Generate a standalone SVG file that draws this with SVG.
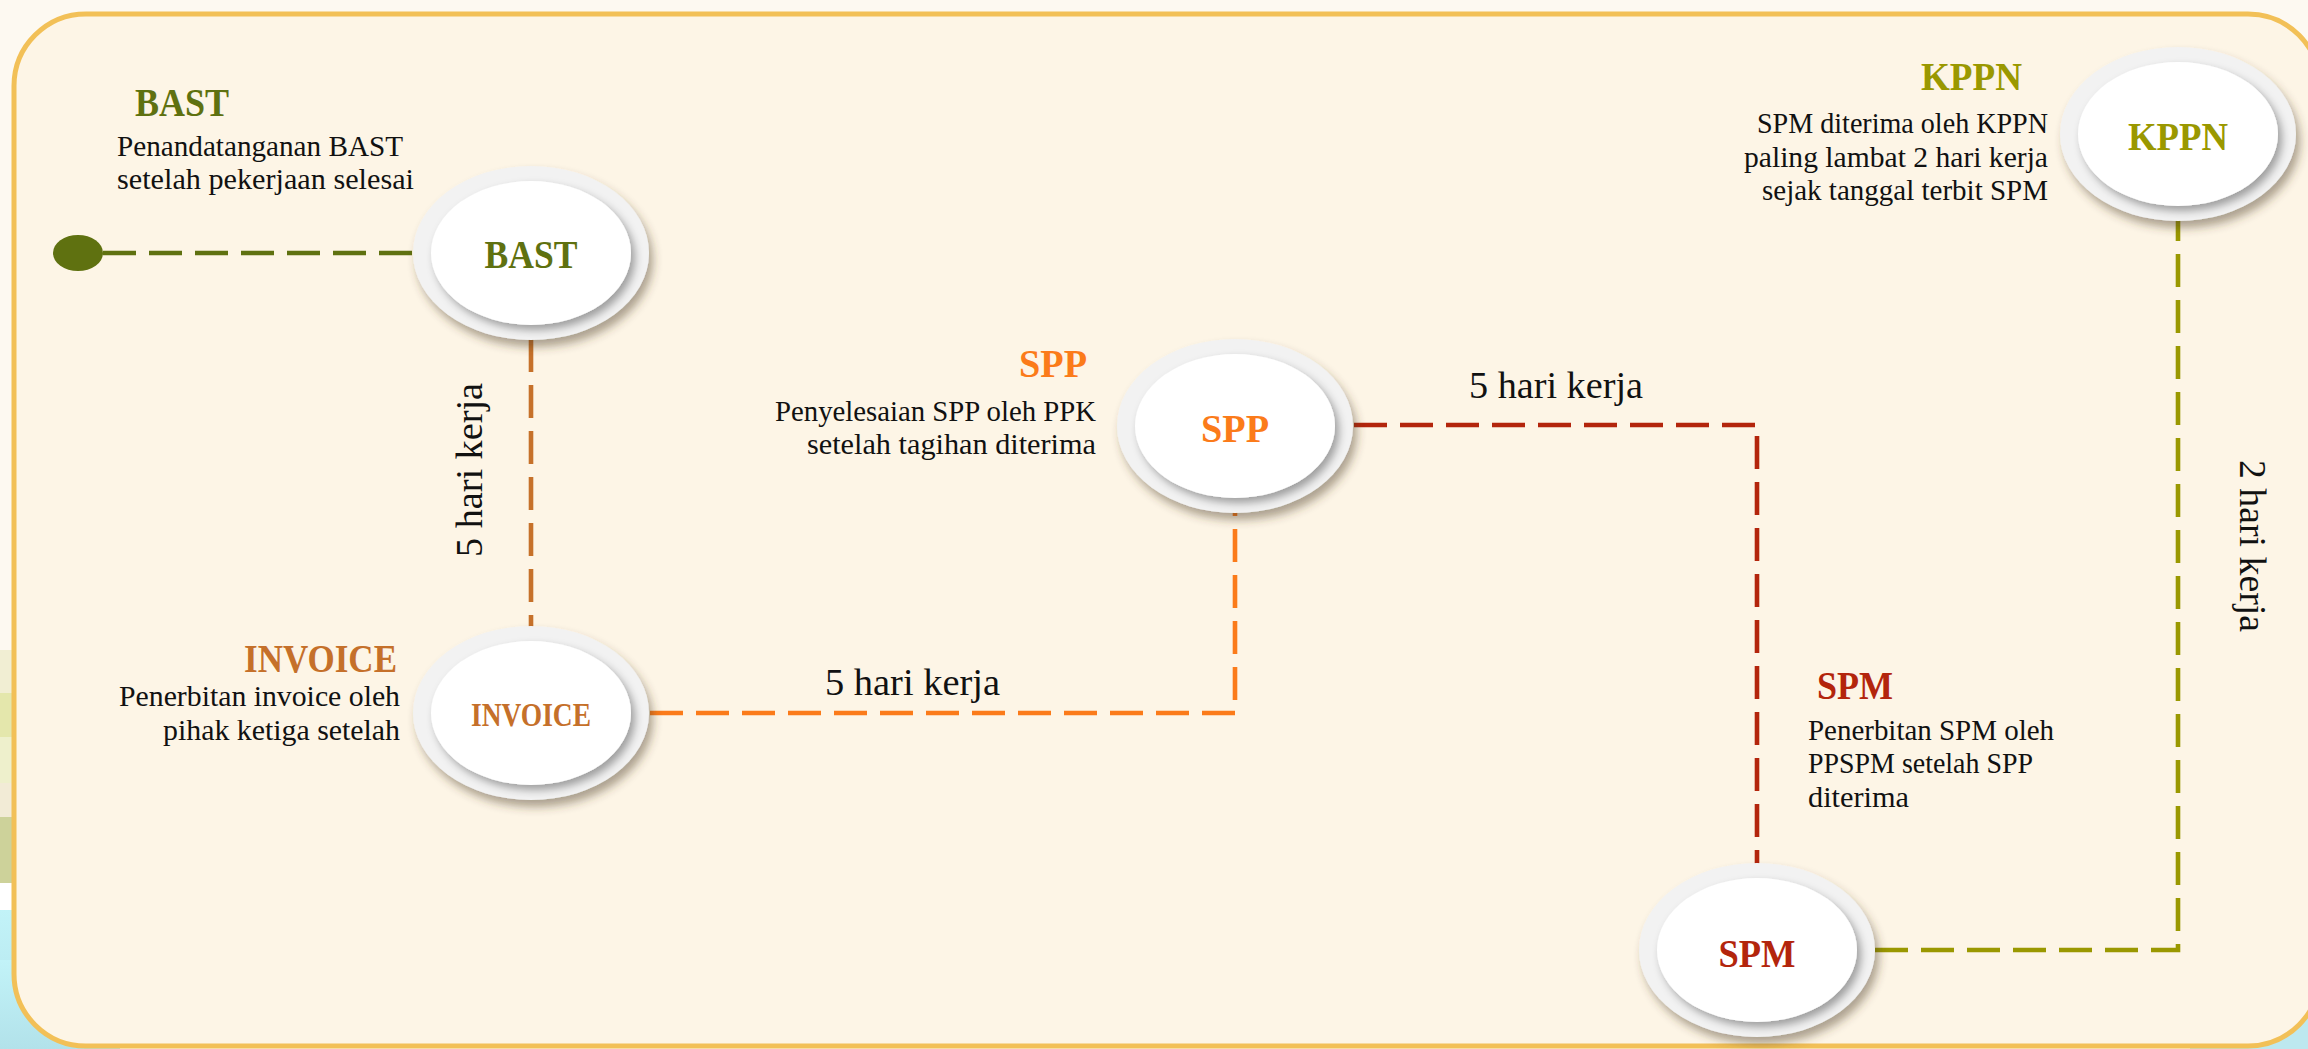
<svg xmlns="http://www.w3.org/2000/svg" width="2308" height="1049" viewBox="0 0 2308 1049">
<defs>
<style>
.ring{fill:#F2F2F2;filter:url(#shOuter)}
.core{fill:#FFFFFF;filter:url(#shInner)}
.lbl{font-family:"Liberation Serif",serif;font-weight:bold;font-size:41px;text-anchor:middle}
.ttl{font-family:"Liberation Serif",serif;font-weight:bold;font-size:41px}
.dsc{font-family:"Liberation Serif",serif;font-size:30px;fill:#111}
.end{text-anchor:end}
.conn{fill:none;stroke-width:4.6;stroke-dasharray:33 13}
.dur{font-family:"Liberation Serif",serif;font-size:38px;fill:#111}
</style>
<filter id="shOuter" x="-20%" y="-20%" width="150%" height="150%">
<feDropShadow dx="4" dy="7" stdDeviation="5" flood-color="#4a3a20" flood-opacity="0.45"/>
</filter>
<filter id="shInner" x="-20%" y="-20%" width="150%" height="150%">
<feDropShadow dx="4" dy="5" stdDeviation="4" flood-color="#000000" flood-opacity="0.35"/>
</filter>
<linearGradient id="sky" x1="0" y1="0" x2="0" y2="1">
<stop offset="0" stop-color="#C2F3F8"/>
<stop offset="1" stop-color="#B2E2EA"/>
</linearGradient>
</defs>

<!-- background -->
<rect x="0" y="0" width="2308" height="1049" fill="#FDF9F1"/>
<rect x="0" y="650" width="16" height="45" fill="#F1EED3"/>
<rect x="0" y="693" width="16" height="45" fill="#E4E7AC"/>
<rect x="0" y="737" width="16" height="46" fill="#EEF0CC"/>
<rect x="0" y="783" width="16" height="34" fill="#F2EBD6"/>
<rect x="0" y="817" width="16" height="66" fill="#CDD29A"/>
<rect x="0" y="883" width="16" height="27" fill="#FFFFFF"/>
<rect x="0" y="910" width="16" height="139" fill="url(#sky)"/>
<rect x="0" y="960" width="120" height="89" fill="url(#sky)"/>
<rect x="2190" y="940" width="118" height="109" fill="#BDE8EF"/>

<!-- frame -->
<rect x="14" y="14" width="2306" height="1032" rx="72" ry="72" fill="#FDF5E6" stroke="#F2C057" stroke-width="5"/>

<!-- connectors -->
<g id="connectors">
<ellipse cx="78" cy="253" rx="25" ry="18" fill="#5F7110"/>
<line class="conn" x1="103" y1="253" x2="413" y2="253" stroke="#5F7110"/>
<line class="conn" x1="531" y1="339" x2="531" y2="627" stroke="#C6712A"/>
<polyline class="conn" points="650,713 1235,713 1235,512" stroke="#FB7B1A"/>
<polyline class="conn" points="1354,425 1757,425 1757,864" stroke="#B3250C"/>
<polyline class="conn" points="1875,950 2178,950 2178,220" stroke="#9A9800"/>
<text class="dur" text-anchor="middle" transform="translate(482,470) rotate(-90)" textLength="174" lengthAdjust="spacingAndGlyphs">5 hari kerja</text>
<text class="dur" x="825" y="695" textLength="175" lengthAdjust="spacingAndGlyphs">5 hari kerja</text>
<text class="dur" x="1469" y="398" textLength="174" lengthAdjust="spacingAndGlyphs">5 hari kerja</text>
<text class="dur" text-anchor="middle" transform="translate(2240,546) rotate(90)" textLength="172" lengthAdjust="spacingAndGlyphs">2 hari kerja</text>
</g>

<!-- BAST -->
<g id="node-bast">
<ellipse class="ring" cx="531" cy="253" rx="118" ry="87"/>
<ellipse class="core" cx="531" cy="253" rx="100" ry="72"/>
<text class="lbl" x="531" y="268" fill="#5F7110" textLength="93" lengthAdjust="spacingAndGlyphs">BAST</text>
<text class="ttl" x="135" y="116" fill="#5F7110" textLength="94" lengthAdjust="spacingAndGlyphs">BAST</text>
<text class="dsc" x="117" y="156" textLength="286" lengthAdjust="spacingAndGlyphs">Penandatanganan BAST</text>
<text class="dsc" x="117" y="189" textLength="297" lengthAdjust="spacingAndGlyphs">setelah pekerjaan selesai</text>
</g>

<!-- INVOICE -->
<g id="node-invoice">
<ellipse class="ring" cx="531" cy="713" rx="118" ry="87"/>
<ellipse class="core" cx="531" cy="713" rx="100" ry="72"/>
<text class="lbl" x="531" y="726" fill="#C5702A" style="font-size:33px" textLength="120" lengthAdjust="spacingAndGlyphs">INVOICE</text>
<text class="ttl end" x="397" y="672" fill="#C5702A" textLength="153" lengthAdjust="spacingAndGlyphs">INVOICE</text>
<text class="dsc end" x="400" y="706" textLength="281" lengthAdjust="spacingAndGlyphs">Penerbitan invoice oleh</text>
<text class="dsc end" x="400" y="740" textLength="237" lengthAdjust="spacingAndGlyphs">pihak ketiga setelah</text>
</g>

<!-- SPP -->
<g id="node-spp">
<ellipse class="ring" cx="1235" cy="426" rx="118" ry="87"/>
<ellipse class="core" cx="1235" cy="426" rx="100" ry="72"/>
<text class="lbl" x="1235" y="442" fill="#FB7B1A" textLength="68" lengthAdjust="spacingAndGlyphs">SPP</text>
<text class="ttl end" x="1087" y="377" fill="#FB7B1A" textLength="68" lengthAdjust="spacingAndGlyphs">SPP</text>
<text class="dsc end" x="1096" y="421" textLength="321" lengthAdjust="spacingAndGlyphs">Penyelesaian SPP oleh PPK</text>
<text class="dsc end" x="1096" y="454" textLength="289" lengthAdjust="spacingAndGlyphs">setelah tagihan diterima</text>
</g>

<!-- SPM -->
<g id="node-spm">
<ellipse class="ring" cx="1757" cy="950" rx="118" ry="87"/>
<ellipse class="core" cx="1757" cy="950" rx="100" ry="72"/>
<text class="lbl" x="1757" y="967" fill="#B3250C" textLength="77" lengthAdjust="spacingAndGlyphs">SPM</text>
<text class="ttl" x="1817" y="699" fill="#B3250C" textLength="76" lengthAdjust="spacingAndGlyphs">SPM</text>
<text class="dsc" x="1808" y="740" textLength="246" lengthAdjust="spacingAndGlyphs">Penerbitan SPM oleh</text>
<text class="dsc" x="1808" y="773" textLength="225" lengthAdjust="spacingAndGlyphs">PPSPM setelah SPP</text>
<text class="dsc" x="1808" y="807" textLength="101" lengthAdjust="spacingAndGlyphs">diterima</text>
</g>

<!-- KPPN -->
<g id="node-kppn">
<ellipse class="ring" cx="2178" cy="134" rx="118" ry="87"/>
<ellipse class="core" cx="2178" cy="134" rx="100" ry="72"/>
<text class="lbl" x="2178" y="150" fill="#9A9800" textLength="100" lengthAdjust="spacingAndGlyphs">KPPN</text>
<text class="ttl end" x="2022" y="90" fill="#9A9800" textLength="101" lengthAdjust="spacingAndGlyphs">KPPN</text>
<text class="dsc end" x="2048" y="133" textLength="291" lengthAdjust="spacingAndGlyphs">SPM diterima oleh KPPN</text>
<text class="dsc end" x="2048" y="167" textLength="304" lengthAdjust="spacingAndGlyphs">paling lambat 2 hari kerja</text>
<text class="dsc end" x="2048" y="200" textLength="286" lengthAdjust="spacingAndGlyphs">sejak tanggal terbit SPM</text>
</g>
</svg>
